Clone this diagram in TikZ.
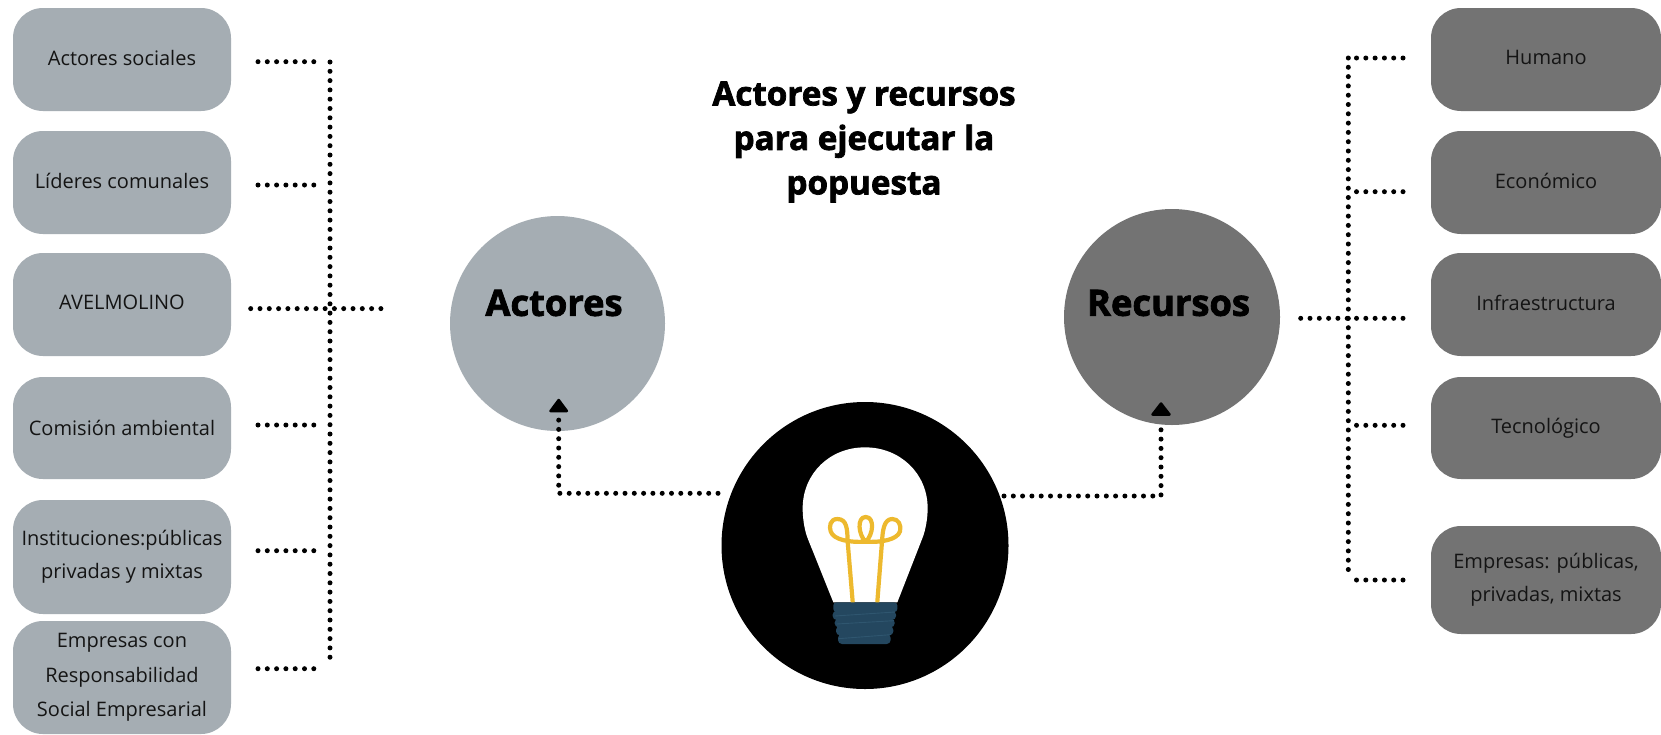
\documentclass[tikz,border=0pt]{standalone}
\usepackage{fontspec}
\setmainfont{Open Sans}
\newfontfamily\xbold[BoldFeatures={FakeBold=2.2}]{Open Sans}
\newcommand\liftup[1]{\raisebox{2pt}[\height][\depth]{#1}}
\definecolor{lg}{HTML}{A5ADB3}
\definecolor{dg}{HTML}{737373}
\definecolor{ink}{HTML}{141414}
\definecolor{yel}{HTML}{EDB92E}
\definecolor{navy}{HTML}{24475F}
\definecolor{navyl}{HTML}{2F566F}
\tikzset{
  boxbase/.style={rounded corners=30pt,minimum width=#1,inner sep=0pt,align=center,text=ink,
    font=\fontsize{20}{33}\selectfont},
  lbox/.style={boxbase=218pt,fill=lg},
  rbox/.style={boxbase=230pt,fill=dg},
  dots/.style={line width=5pt,line cap=round,dash pattern=on 0pt off 9.3pt},
  tip/.style={fill=black,draw=black,line width=2.5pt,line join=round},
  heading/.style={font=\xbold\bfseries\fontsize{33.2}{44.5}\selectfont,align=center,text=black},
  big/.style={font=\xbold\bfseries\fontsize{36.3}{40}\selectfont,text=black},
}
\begin{document}
\begin{tikzpicture}[x=1pt,y=-1pt]
\useasboundingbox (0,0) rectangle (1661,734);
\fill[white] (0,0) rectangle (1661,734);
% boxes left
\node[lbox,minimum height=103pt] (a1) at (122,59.5) {\liftup{Actores sociales}};
\node[lbox,minimum height=103pt] (a2) at (122,182.5) {\liftup{Líderes comunales}};
\node[lbox,minimum height=103pt] (a3) at (122,304.5) {\liftup{AVELMOLINO}};
\node[lbox,minimum height=102pt] (a4) at (122,428) {Comisión ambiental};
\node[lbox,minimum height=114pt] (a5) at (122,557) {Instituciones:públicas\\privadas y mixtas};
\node[lbox,minimum height=113pt] (a6) at (122,677.5) {Empresas con\\[1.5pt]Responsabilidad\\[1.5pt]Social Empresarial};
% boxes right
\node[rbox,minimum height=103pt] (r1) at (1546,59.5) {\liftup{Humano}};
\node[rbox,minimum height=103pt] (r2) at (1546,182.5) {\liftup{Económico}};
\node[rbox,minimum height=103pt] (r3) at (1546,304.5) {\liftup{Infraestructura}};
\node[rbox,minimum height=102pt] (r4) at (1546,428) {Tecnológico};
\node[rbox,minimum height=108pt] (r5) at (1546,580) {Empresas: públicas,\\privadas, mixtas};
% circles
\node[circle,fill=lg,minimum size=215pt,inner sep=0pt] (ca) at (557.5,323.5) {};
\node[circle,fill=dg,minimum size=216pt,inner sep=0pt] (cr) at (1172,317) {};
\node[circle,fill=black,minimum size=287pt,inner sep=0pt] (lamp) at (865,545.5) {};
\node[big] (ta) at (554,303) {Actores};
\node[big] (tr) at (1168.5,303) {Recursos};
\node[heading] (title) at (864,142) {Actores y recursos\\para ejecutar la\\popuesta};
% left connectors
\coordinate (lv1) at (330,62); \coordinate (lv2) at (330,664);
\draw[dots] (lv1) -- (lv2);
\foreach \n/\y in {1/61.7,2/185,4/425,5/550.7,6/668.7}{
  \coordinate (ls\n) at (258,\y); \coordinate (le\n) at (315,\y);
  \draw[dots] (ls\n) -- (le\n);
}
\coordinate (ls3) at (250.7,308.6); \coordinate (le3) at (383,308.6);
\draw[dots] (ls3) -- (le3);
% right connectors
\coordinate (rv1) at (1348.3,58); \coordinate (rv2) at (1348.3,576);
\draw[dots] (rv1) -- (rv2);
\foreach \n/\x/\y in {1/1403/58,2/1403/191.7,4/1403/425.3,5/1403/580}{
  \coordinate (rs\n) at (1356,\y); \coordinate (re\n) at (\x,\y);
  \draw[dots] (re\n) -- (rs\n);
}
\coordinate (rs3) at (1298,318.3); \coordinate (re3) at (1403,318.3);
\draw[dots] (re3) -- (rs3);
% arrows from lamp
\coordinate (p1) at (718,493.3); \coordinate (p2) at (558.7,493.3); \coordinate (p3) at (558.7,418);
\draw[dots] (p1) -- (p2) -- (p3);
\path[tip] (558.7,400) -- (550.5,411) -- (566.9,411) -- cycle;
\coordinate (q1) at (1004,496); \coordinate (q2) at (1161,496); \coordinate (q3) at (1161,421.7);
\draw[dots] (q1) -- (q2) -- (q3);
\path[tip] (1161,403.5) -- (1152.5,414.5) -- (1169.5,414.5) -- cycle;
% bulb (reference zoom coordinates)
\begin{scope}[shift={(660,370)},x=0.33333pt,y=-0.33333pt]
\fill[white] (520,697) -- (445,510) .. controls (432,480) and (428,440) .. (428,415)
  .. controls (428,310) and (510,232) .. (615,232)
  .. controls (720,232) and (803,310) .. (803,415)
  .. controls (803,440) and (798,480) .. (785,510) -- (712,697) -- cycle;
\draw[yel,line width=4.2pt,line cap=round,line join=round]
  (578,695) -- (563,515)
  .. controls (562,475) and (560,447) .. (532,447)
  .. controls (510,447) and (507,470) .. (512,484)
  .. controls (520,510) and (570,518) .. (617,515)
  .. controls (595,495) and (590,441) .. (617,441)
  .. controls (645,441) and (640,495) .. (617,515)
  .. controls (660,518) and (712,510) .. (720,484)
  .. controls (725,465) and (715,447) .. (697,447)
  .. controls (672,447) and (668,480) .. (666,515) -- (652,695);
\fill[navy,rounded corners=3pt] (520,697) rectangle (712,726);
\fill[navy,rounded corners=4pt] (518,722) rectangle (708,750);
\fill[navy,rounded corners=4pt] (524,746) rectangle (704,772);
\fill[navy,rounded corners=4pt] (528,768) rectangle (700,796);
\fill[navy,rounded corners=4pt] (534,792) rectangle (692,822);
\draw[navyl,line width=0.9pt] (525,738) -- (705,726);
\draw[navyl,line width=0.9pt] (530,762) -- (702,752);
\draw[navyl,line width=0.9pt] (536,806) -- (692,794);
\end{scope}
\end{tikzpicture}
\end{document}
